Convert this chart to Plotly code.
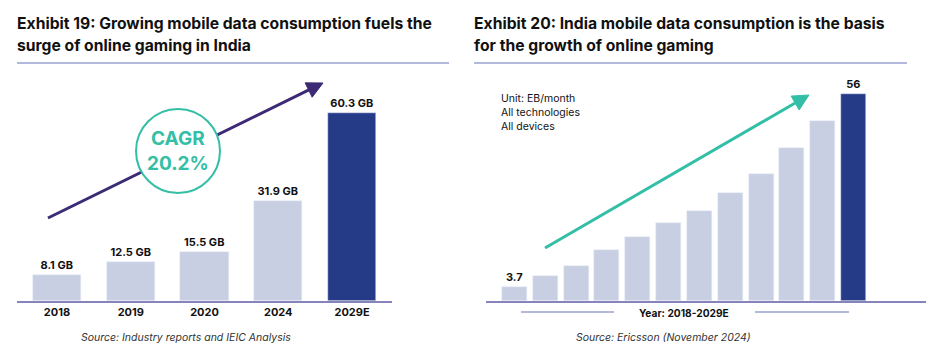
import math
import plotly.graph_objects as go

# ---------------- data ----------------
left_years = ["2018", "2019", "2020", "2024", "2029E"]
left_values = [8.1, 12.5, 15.5, 31.9, 60.3]
left_labels = ["8.1 GB", "12.5 GB", "15.5 GB", "31.9 GB", "60.3 GB"]

right_years = ["2018", "2019", "2020", "2021", "2022", "2023", "2024",
               "2025E", "2026E", "2027E", "2028E", "2029E"]
right_values = [3.7, 6.7, 9.4, 13.7, 17.3, 21.0, 24.3, 29.2, 34.3, 41.4, 48.7, 56]
right_labels = ["3.7", "", "", "", "", "", "", "", "", "", "", "56"]

cagr_text = "CAGR<br>20.2%"
left_title = ["Exhibit 19: Growing mobile data consumption fuels the",
              "surge of online gaming in India"]
right_title = ["Exhibit 20: India mobile data consumption is the basis",
               "for the growth of online gaming"]
right_note = ["Unit: EB/month", "All technologies", "All devices"]
left_source = "Source: Industry reports and IEIC Analysis"
right_source = "Source: Ericsson (November 2024)"
right_axis_title = "Year: 2018-2029E"

# ---------------- style ----------------
W, H = 934, 361
FONT = "Inter"
LIGHT = "#c9cfe2"
DARK = "#263b87"
TEAL = "#33bea6"
PURPLE = "#3c2a75"
BASE = "#8783bb"
RULE = "#98a2d2"


def px(x):
    return x / W


def py(y):
    return 1 - y / H


base_y = 300.7
top_y = 70
left_scale = 3.12
right_scale = 3.69

left_colors = [LIGHT] * (len(left_values) - 1) + [DARK]
right_colors = [LIGHT] * (len(right_values) - 1) + [DARK]

fig = go.Figure()
fig.add_trace(go.Bar(
    x=left_years, y=left_values, marker_color=left_colors, width=0.651,
    text=left_labels, textposition="outside", cliponaxis=False,
    textfont=dict(family=FONT, size=11, color="#111111", weight="bold"),
    xaxis="x", yaxis="y", showlegend=False, hoverinfo="skip"))
fig.add_trace(go.Bar(
    x=right_years, y=right_values, marker_color=right_colors, width=0.811,
    text=right_labels, textposition="outside", cliponaxis=False,
    textfont=dict(family=FONT, size=11, color="#111111", weight="bold"),
    xaxis="x2", yaxis="y2", showlegend=False, hoverinfo="skip"))

fig.update_layout(
    width=W, height=H, margin=dict(l=0, r=0, t=0, b=0),
    paper_bgcolor="white", plot_bgcolor="white",
    font=dict(family=FONT, color="#111111"),
    bargap=0,
    xaxis=dict(domain=[px(17), px(392)], range=[-0.542, 4.542], type="category",
               showline=True, linecolor=BASE, linewidth=2, showgrid=False,
               zeroline=False, ticks="",
               tickfont=dict(family=FONT, size=11, color="#111111", weight="bold"),
               fixedrange=True),
    yaxis=dict(domain=[py(base_y), py(top_y)],
               range=[0, (base_y - top_y) / left_scale],
               visible=False, fixedrange=True),
    xaxis2=dict(domain=[px(486), px(926)], range=[-0.925, 13.352], type="category",
                showline=True, linecolor=BASE, linewidth=2, showgrid=False,
                zeroline=False, ticks="", showticklabels=False, fixedrange=True),
    yaxis2=dict(domain=[py(base_y), py(top_y)],
                range=[0, (base_y - top_y) / right_scale],
                visible=False, anchor="x2", fixedrange=True),
)

ann = []
shapes = []


def text(x, y, t, size, bold=False, italic=False, color="#111111", xanchor="left"):
    ann.append(dict(x=px(x), y=py(y), xref="paper", yref="paper", text=t,
                    showarrow=False, xanchor=xanchor, yanchor="middle",
                    font=dict(family=FONT, size=size, color=color,
                              weight="bold" if bold else "normal",
                              style="italic" if italic else "normal")))


def arrow(x0, y0, x1, y1, color, width=3, head_len=16, head_half=8):
    dx, dy = x1 - x0, y1 - y0
    L = math.hypot(dx, dy)
    ux, uy = dx / L, dy / L
    nx, ny = -uy, ux
    bx, by = x1 - ux * head_len, y1 - uy * head_len
    shapes.append(dict(type="line", xref="paper", yref="paper",
                       x0=px(x0), y0=py(y0), x1=px(bx + ux * 2), y1=py(by + uy * 2),
                       line=dict(color=color, width=width), layer="above"))
    pts = [(x1, y1), (bx + nx * head_half, by + ny * head_half),
           (bx - nx * head_half, by - ny * head_half)]
    path = "M " + " L ".join(f"{px(a):.5f},{py(b):.5f}" for a, b in pts) + " Z"
    shapes.append(dict(type="path", xref="paper", yref="paper", path=path,
                       fillcolor=color, line=dict(color=color, width=1), layer="above"))


# titles
for i, line in enumerate(left_title):
    text(15, 23 + i * 22, line, 15.7, bold=True)
for i, line in enumerate(right_title):
    text(472, 23 + i * 22, line, 15.7, bold=True)

# rules under titles
shapes.append(dict(type="line", xref="paper", yref="paper", x0=px(17), x1=px(449),
                   y0=py(63), y1=py(63), line=dict(color=RULE, width=1.5)))
shapes.append(dict(type="line", xref="paper", yref="paper", x0=px(474), x1=px(907),
                   y0=py(63), y1=py(63), line=dict(color=RULE, width=1.5)))

# notes
for i, line in enumerate(right_note):
    text(499, 98 + i * 14.5, line, 10.5)

# sources
text(186, 337, left_source, 10.5, italic=True, color="#333333", xanchor="center")
text(663, 337, right_source, 10.5, italic=True, color="#333333", xanchor="center")

# right axis title with side rules
text(684, 313, right_axis_title, 10.2, bold=True, xanchor="center")
shapes.append(dict(type="line", xref="paper", yref="paper", x0=px(521), x1=px(614),
                   y0=py(312), y1=py(312), line=dict(color=RULE, width=1.5)))
shapes.append(dict(type="line", xref="paper", yref="paper", x0=px(755), x1=px(849),
                   y0=py(312), y1=py(312), line=dict(color=RULE, width=1.5)))

# arrows
arrow(48, 218, 323, 83, PURPLE)
arrow(545, 248, 809, 95, TEAL)

# CAGR circle (drawn above the arrow line)
shapes.append(dict(type="circle", xref="paper", yref="paper",
                   x0=px(136), x1=px(220), y0=py(193), y1=py(109),
                   fillcolor="white", line=dict(color=TEAL, width=2), layer="above"))
ann.append(dict(x=px(178), y=py(151), xref="paper", yref="paper", text=cagr_text,
                showarrow=False, xanchor="center", yanchor="middle",
                font=dict(family=FONT, size=19, color=TEAL, weight="bold")))

fig.update_layout(annotations=ann, shapes=shapes)
fig.write_html("out.html", config={"displayModeBar": False},
               post_script="document.body.style.margin='0px';")
